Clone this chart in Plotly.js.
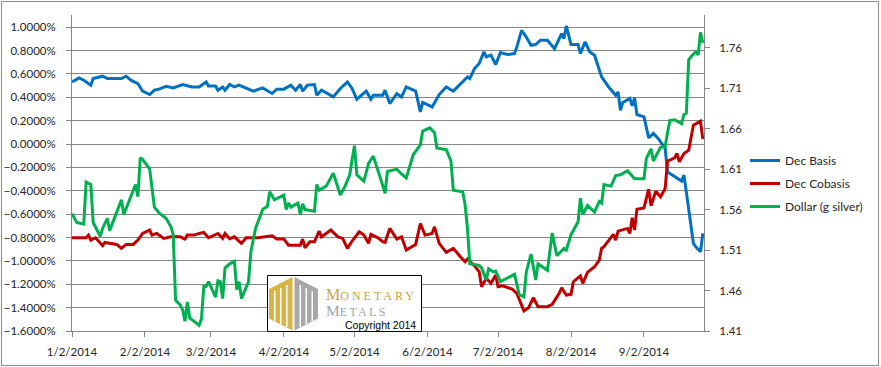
<!DOCTYPE html>
<html><head><meta charset="utf-8">
<script src="https://cdn.plot.ly/plotly-3.0.1.min.js"></script>
<style>html,body{margin:0;padding:0;background:#fff}#chart{width:881px;height:367px}</style>
</head><body><div id="chart"></div>
<script>
const basisDates = ['2014-01-02','2014-01-05','2014-01-07','2014-01-10','2014-01-11','2014-01-15','2014-01-17','2014-01-23','2014-01-25','2014-01-27','2014-01-30',
'2014-02-01','2014-02-04','2014-02-06','2014-02-08','2014-02-11','2014-02-14','2014-02-18','2014-02-22','2014-02-25','2014-02-28',
'2014-03-01','2014-03-04','2014-03-05','2014-03-07','2014-03-08','2014-03-10','2014-03-12','2014-03-14','2014-03-20','2014-03-24','2014-03-28','2014-03-30',
'2014-04-02','2014-04-05','2014-04-07','2014-04-09','2014-04-10','2014-04-12','2014-04-15','2014-04-16','2014-04-18','2014-04-23','2014-04-26','2014-04-29',
'2014-05-01','2014-05-03','2014-05-07','2014-05-09','2014-05-10','2014-05-14','2014-05-15','2014-05-17','2014-05-20','2014-05-22','2014-05-24','2014-05-28','2014-05-30','2014-05-31',
'2014-06-04','2014-06-07','2014-06-10','2014-06-13','2014-06-17','2014-06-19','2014-06-20','2014-06-22','2014-06-24','2014-06-26','2014-06-27','2014-06-29',
'2014-07-01','2014-07-03','2014-07-06','2014-07-09','2014-07-10','2014-07-12','2014-07-14','2014-07-16','2014-07-18','2014-07-20','2014-07-23','2014-07-26','2014-07-29','2014-07-30','2014-07-31',
'2014-08-02','2014-08-05','2014-08-06','2014-08-08','2014-08-10','2014-08-12','2014-08-15','2014-08-18','2014-08-21','2014-08-22','2014-08-23','2014-08-24','2014-08-27','2014-08-28','2014-08-29','2014-08-30',
'2014-09-02','2014-09-04','2014-09-06','2014-09-08','2014-09-11','2014-09-12','2014-09-15','2014-09-18','2014-09-19','2014-09-21','2014-09-23','2014-09-24','2014-09-26','2014-09-27'];
const basisValues = [0.532,0.566,0.547,0.504,0.561,0.581,0.561,0.561,0.581,0.547,0.518,
0.453,0.424,0.461,0.470,0.495,0.481,0.510,0.489,0.489,0.532,
0.498,0.498,0.461,0.489,0.461,0.510,0.489,0.504,0.453,0.481,0.433,0.470,
0.470,0.504,0.461,0.510,0.453,0.504,0.510,0.418,0.461,0.404,0.476,0.532,
0.476,0.384,0.453,0.384,0.418,0.418,0.461,0.347,0.433,0.404,0.489,0.453,0.276,0.356,
0.318,0.424,0.489,0.453,0.532,0.575,0.561,0.647,0.690,0.789,0.746,0.761,
0.681,0.784,0.767,0.775,0.832,0.974,0.917,0.846,0.852,0.889,0.889,0.817,0.946,0.903,1.011,
0.852,0.852,0.775,0.875,0.789,0.761,0.575,0.489,0.418,0.447,0.290,0.356,0.390,0.327,0.396,0.253,
0.233,0.053,0.091,0.048,-0.037,-0.238,-0.280,-0.317,-0.266,-0.580,-0.850,-0.879,-0.922,-0.764];

const cobasisDates = ['2014-01-02','2014-01-08','2014-01-09','2014-01-10','2014-01-12','2014-01-15','2014-01-16','2014-01-21','2014-01-23','2014-01-25','2014-01-28','2014-01-30',
'2014-02-01','2014-02-04','2014-02-05','2014-02-07','2014-02-10','2014-02-13','2014-02-17','2014-02-19','2014-02-20','2014-02-23','2014-02-25','2014-02-27',
'2014-03-01','2014-03-05','2014-03-07','2014-03-08','2014-03-10','2014-03-12','2014-03-15','2014-03-17','2014-03-22','2014-03-28','2014-03-30',
'2014-04-02','2014-04-04','2014-04-09','2014-04-10','2014-04-11','2014-04-13','2014-04-15','2014-04-17','2014-04-18','2014-04-22','2014-04-25','2014-04-27','2014-04-29',
'2014-05-01','2014-05-04','2014-05-06','2014-05-08','2014-05-09','2014-05-12','2014-05-14','2014-05-15','2014-05-17','2014-05-20','2014-05-22','2014-05-24','2014-05-28','2014-05-30',
'2014-06-01','2014-06-04','2014-06-05','2014-06-07','2014-06-10','2014-06-13','2014-06-16','2014-06-18','2014-06-19','2014-06-22','2014-06-24','2014-06-25','2014-06-27','2014-06-29',
'2014-07-01','2014-07-02','2014-07-04','2014-07-08','2014-07-10','2014-07-13','2014-07-15','2014-07-17','2014-07-19','2014-07-23','2014-07-25','2014-07-28','2014-07-29','2014-07-31',
'2014-08-02','2014-08-03','2014-08-06','2014-08-07','2014-08-09','2014-08-12','2014-08-14','2014-08-15','2014-08-16','2014-08-20','2014-08-21','2014-08-22','2014-08-26','2014-08-27','2014-08-28','2014-08-29','2014-08-30',
'2014-09-02','2014-09-04','2014-09-05','2014-09-07','2014-09-09','2014-09-11','2014-09-12','2014-09-15','2014-09-16','2014-09-17','2014-09-19','2014-09-21','2014-09-23','2014-09-26','2014-09-27'];
const cobasisValues = [-0.802,-0.802,-0.779,-0.822,-0.802,-0.870,-0.842,-0.859,-0.893,-0.859,-0.859,-0.822,
-0.765,-0.736,-0.779,-0.765,-0.807,-0.794,-0.794,-0.813,-0.779,-0.779,-0.765,-0.756,
-0.802,-0.765,-0.807,-0.765,-0.810,-0.794,-0.850,-0.802,-0.802,-0.785,-0.813,
-0.813,-0.865,-0.865,-0.813,-0.888,-0.836,-0.836,-0.745,-0.794,-0.736,-0.794,-0.807,-0.893,
-0.830,-0.751,-0.779,-0.850,-0.773,-0.802,-0.836,-0.842,-0.722,-0.813,-0.794,-0.907,-0.859,-0.680,
-0.779,-0.765,-0.708,-0.850,-0.927,-0.893,-0.965,-1.007,-0.984,-1.042,-1.093,-1.221,-1.149,-1.192,
-1.121,-1.221,-1.213,-1.241,-1.278,-1.429,-1.401,-1.315,-1.392,-1.392,-1.372,-1.278,-1.230,-1.292,
-1.286,-1.178,-1.127,-1.192,-1.098,-1.050,-0.993,-0.893,-0.879,-0.773,-0.822,-0.745,-0.722,-0.765,-0.631,-0.736,-0.557,
-0.546,-0.386,-0.529,-0.403,-0.451,-0.380,-0.146,-0.118,-0.080,-0.152,-0.080,-0.052,0.162,0.196,0.042];

const dollarDates = ['2014-01-02','2014-01-04','2014-01-07','2014-01-08','2014-01-10','2014-01-11','2014-01-14','2014-01-15','2014-01-17','2014-01-18','2014-01-23','2014-01-24','2014-01-29','2014-01-30','2014-01-31',
'2014-02-01','2014-02-04','2014-02-06','2014-02-08','2014-02-11','2014-02-13','2014-02-14','2014-02-15','2014-02-17','2014-02-18','2014-02-19','2014-02-20','2014-02-21','2014-02-25','2014-02-26','2014-02-27','2014-02-28',
'2014-03-01','2014-03-04','2014-03-05','2014-03-06','2014-03-07','2014-03-08','2014-03-10','2014-03-12','2014-03-13','2014-03-14','2014-03-15','2014-03-18','2014-03-19','2014-03-21','2014-03-24','2014-03-26','2014-03-27','2014-03-29',
'2014-04-02','2014-04-03','2014-04-04','2014-04-05','2014-04-08','2014-04-09','2014-04-10','2014-04-11','2014-04-15','2014-04-16','2014-04-17','2014-04-20','2014-04-23','2014-04-26','2014-04-28','2014-04-30',
'2014-05-01','2014-05-02','2014-05-03','2014-05-06','2014-05-08','2014-05-10','2014-05-13','2014-05-15','2014-05-16','2014-05-20','2014-05-22','2014-05-24','2014-05-27','2014-05-30','2014-05-31',
'2014-06-03','2014-06-05','2014-06-06','2014-06-10','2014-06-12','2014-06-13','2014-06-17','2014-06-18','2014-06-19','2014-06-20','2014-06-24','2014-06-25','2014-06-27','2014-06-28','2014-06-30',
'2014-07-01','2014-07-03','2014-07-09','2014-07-11','2014-07-13','2014-07-14','2014-07-16','2014-07-18','2014-07-19','2014-07-23','2014-07-25','2014-07-27','2014-07-30','2014-07-31',
'2014-08-02','2014-08-05','2014-08-06','2014-08-07','2014-08-09','2014-08-12','2014-08-14','2014-08-15','2014-08-16','2014-08-19','2014-08-21','2014-08-23','2014-08-26','2014-08-29',
'2014-09-02','2014-09-03','2014-09-05','2014-09-06','2014-09-09','2014-09-11','2014-09-12','2014-09-13','2014-09-15','2014-09-18','2014-09-19','2014-09-20','2014-09-21','2014-09-22','2014-09-24','2014-09-25','2014-09-26','2014-09-27'];
const dollarValues = [1.555,1.544,1.542,1.594,1.591,1.544,1.527,1.537,1.549,1.534,1.572,1.554,1.591,1.576,1.624,
1.622,1.610,1.563,1.556,1.549,1.539,1.529,1.448,1.442,1.436,1.422,1.446,1.426,1.417,1.425,1.465,1.465,
1.471,1.452,1.472,1.471,1.450,1.488,1.493,1.496,1.461,1.471,1.450,1.471,1.508,1.537,1.560,1.564,1.582,1.572,
1.578,1.560,1.568,1.563,1.568,1.554,1.567,1.560,1.558,1.591,1.584,1.589,1.605,1.578,1.589,1.603,
1.622,1.639,1.603,1.595,1.617,1.626,1.599,1.580,1.607,1.610,1.604,1.599,1.628,1.640,1.657,
1.661,1.655,1.636,1.634,1.620,1.584,1.582,1.566,1.537,1.493,1.491,1.488,1.473,1.487,1.483,
1.484,1.471,1.480,1.455,1.452,1.483,1.505,1.473,1.493,1.485,1.531,1.503,1.512,1.510,
1.529,1.545,1.574,1.554,1.565,1.557,1.570,1.568,1.591,1.589,1.602,1.603,1.608,1.598,
1.598,1.623,1.635,1.620,1.637,1.638,1.655,1.670,1.671,1.666,1.678,1.679,1.745,1.749,1.755,1.751,1.779,1.766];

const seriesNames = ['Dec Basis','Dec Cobasis','Dollar (g silver)'];

// plot-area geometry (pixels) used for decoration placement
const L = 72, R = 704, T = 15, B = 331;
const px = x => (x - L) / (R - L);
const py = y => (B - y) / (B - T);
const poly = (pts, color) => ({
  type: 'path', xref: 'paper', yref: 'paper', layer: 'above',
  path: 'M' + pts.map(p => px(p[0]).toFixed(5) + ',' + py(p[1]).toFixed(5)).join(' L') + ' Z',
  fillcolor: color, line: {width: 0}
});
const rect = (x0, y0, x1, y1, color) => ({
  type: 'rect', xref: 'paper', yref: 'paper', layer: 'above',
  x0: px(x0), x1: px(x1), y0: py(y1), y1: py(y0), fillcolor: color, line: {width: 0}
});

const FONT = 'Lato, Carlito, Calibri, sans-serif';
const GRID = '#868686';
const TXT = '#262626';

const traces = [
  {x: basisDates, y: basisValues, name: seriesNames[0], type: 'scatter', mode: 'lines',
   line: {color: '#0070C0', width: 3}, legendgroup: 'a'},
  {x: cobasisDates, y: cobasisValues, name: seriesNames[1], type: 'scatter', mode: 'lines',
   line: {color: '#C00000', width: 3}, legendgroup: 'b'},
  {x: dollarDates, y: dollarValues, name: seriesNames[2], type: 'scatter', mode: 'lines', yaxis: 'y2',
   line: {color: '#00B050', width: 3}, legendgroup: 'c'}
];

const gold = '#D8B445', gray = '#A8A8A8';
const shapes = [
  {type: 'rect', xref: 'paper', yref: 'paper', x0: px(1.5), x1: px(878.5), y0: py(365.5), y1: py(1.5),
   line: {color: '#8C8C8C', width: 1}, fillcolor: 'rgba(0,0,0,0)', layer: 'below'},
  {type: 'rect', xref: 'paper', yref: 'paper', x0: px(267.5), x1: px(421.5), y0: py(331.5), y1: py(275.5),
   line: {color: '#000000', width: 1}, fillcolor: '#FFFFFF', layer: 'above'},
  poly([[292.5,277],[269,289],[269,318.5],[292.5,330.5]], gold),
  poly([[294.5,277],[318,289],[318,318.5],[294.5,330.5]], gray),
  rect(274, 291, 275.5, 321, '#FFFFFF'),
  rect(280, 288, 281.5, 324, '#FFFFFF'),
  rect(286, 285, 287.5, 327, '#FFFFFF'),
  rect(299.5, 285, 301, 327, '#FFFFFF'),
  rect(305.5, 288, 307, 324, '#FFFFFF'),
  rect(311.5, 291, 313, 321, '#FFFFFF')
];

const SERIF = 'Liberation Serif, DejaVu Serif, serif';
const annotations = [
  {xref: 'paper', yref: 'paper', x: px(326), y: py(294.5), xanchor: 'left', yanchor: 'middle', showarrow: false,
   borderpad: 0, borderwidth: 0,
   text: '<span style="font-size:16px">M</span><span style="letter-spacing:3px">ONETARY</span>',
   font: {family: SERIF, size: 12, color: '#C9A43C'}},
  {xref: 'paper', yref: 'paper', x: px(326), y: py(310.5), xanchor: 'left', yanchor: 'middle', showarrow: false,
   borderpad: 0, borderwidth: 0,
   text: '<span style="font-size:15.5px">M</span><span style="letter-spacing:2.3px">ETALS</span>',
   font: {family: SERIF, size: 12, color: '#A5A5A5'}},
  {xref: 'paper', yref: 'paper', x: px(344.5), y: py(324.5), xanchor: 'left', yanchor: 'middle', showarrow: false,
   borderpad: 0, borderwidth: 0,
   text: 'Copyright 2014',
   font: {family: 'Liberation Sans, Arial, sans-serif', size: 10.5, color: '#000000'}}
];

const layout = {
  width: 881, height: 367,
  margin: {l: L, r: 881 - R, t: T, b: 367 - B, pad: 0},
  paper_bgcolor: '#FFFFFF', plot_bgcolor: '#FFFFFF',
  font: {family: FONT, size: 11.5, color: TXT},
  showlegend: true,
  legend: {x: px(745), y: py(146), xanchor: 'left', yanchor: 'top', traceorder: 'grouped', tracegroupgap: 4,
           font: {family: FONT, size: 12, color: TXT}, bgcolor: 'rgba(0,0,0,0)', borderwidth: 0},
  xaxis: {type: 'date', range: ['2014-01-02', '2014-09-27 12:00'], tick0: '2014-01-02', dtick: 'M1',
          tickformat: '%-m/%-d/%Y', ticks: 'outside', ticklen: 5, tickcolor: GRID, tickwidth: 1,
          showline: true, linecolor: GRID, linewidth: 1, showgrid: false, zeroline: false,
          ticklabelstandoff: 5, tickfont: {family: FONT, size: 11.5, color: TXT}},
  yaxis: {range: [-1.6, 1.105], tick0: -1.6, dtick: 0.2, tickformat: '.4f', ticksuffix: '%',
          showgrid: true, gridcolor: GRID, gridwidth: 1, zeroline: false,
          showline: true, linecolor: GRID, linewidth: 1, ticks: 'outside', ticklen: 5, tickcolor: GRID,
          ticklabelstandoff: 8, tickfont: {family: FONT, size: 11.5, color: TXT}},
  yaxis2: {overlaying: 'y', side: 'right', range: [1.41, 1.8004], tick0: 1.41, dtick: 0.05, tickformat: '.2f',
           showgrid: false, zeroline: false, showline: true, linecolor: GRID, linewidth: 1,
           ticks: 'outside', ticklen: 5, tickcolor: GRID, ticklabelstandoff: 7,
           tickfont: {family: FONT, size: 11.5, color: TXT}},
  shapes: shapes,
  annotations: annotations
};

Plotly.newPlot('chart', traces, layout, {staticPlot: true, displayModeBar: false});
</script></body></html>
